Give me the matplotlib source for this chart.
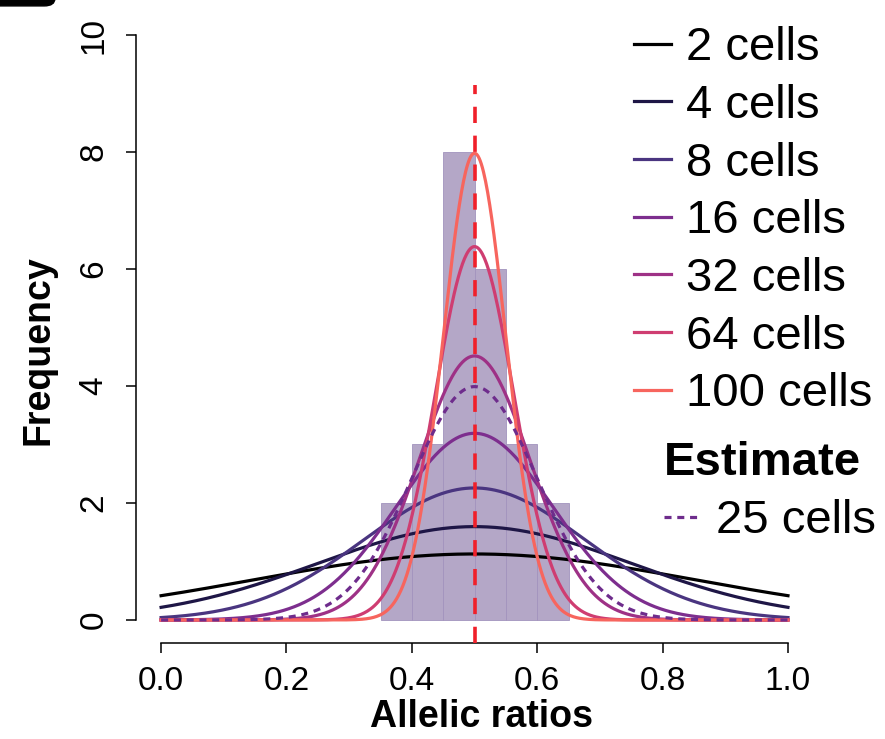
import matplotlib
matplotlib.use("Agg")
import matplotlib.pyplot as plt
import numpy as np
from matplotlib.lines import Line2D
from matplotlib.patches import FancyBboxPatch

plt.rcParams["font.family"] = ["Liberation Sans", "DejaVu Sans"]

# ─── Data ─────────────────────────────────────────────────────────────

bin_left = [0.35, 0.40, 0.45, 0.50, 0.55, 0.60]
bin_counts = [2, 3, 8, 6, 3, 2]
bin_width = 0.05

cell_counts = [2, 4, 8, 16, 32, 64, 100]
cell_colors = ["#000000", "#1e1646", "#4a3580", "#7d2e8e",
               "#9e3186", "#cf3d71", "#f7655e"]

estimate_cells = 25
estimate_color = "#6e2c8c"

expected_ratio = 0.5

# ─── Figure ───────────────────────────────────────────────────────────

fig = plt.figure(figsize=(8.85, 7.39), dpi=100)
ax = fig.add_axes([0.1537, 0.1294, 0.765, 0.8549])
ax.set_xlim(-0.04, 1.04)
ax.set_ylim(-0.4, 10.4)

ax.bar(bin_left, bin_counts, width=bin_width, align="edge",
       color="#b4a7c7", edgecolor="#a293bd", linewidth=0.6, zorder=1)

x = np.linspace(0, 1, 600)


def _density(n):
    sd = np.sqrt(expected_ratio * (1 - expected_ratio) / n)
    return np.exp(-0.5 * ((x - expected_ratio) / sd) ** 2) / (sd * np.sqrt(2 * np.pi))


for n, col in zip(cell_counts, cell_colors):
    ax.plot(x, _density(n), color=col, linewidth=2.3, zorder=3 + n / 1000)

ax.plot(x, _density(estimate_cells), color=estimate_color, linewidth=2.3,
        linestyle=(0, (2.2, 1.8)), zorder=3.2)

ax.vlines(expected_ratio, -0.4, 9.15, color="#f0202a", linewidth=2.6,
          linestyles=[(0, (4.5, 3.5))], zorder=5)

# R-style axes: detached spines limited to the data range
for side in ("top", "right"):
    ax.spines[side].set_visible(False)
ax.spines["left"].set_bounds(0, 10)
ax.spines["bottom"].set_bounds(0, 1)
ax.spines["left"].set_linewidth(1.1)
ax.spines["bottom"].set_linewidth(1.1)

ax.set_xticks([0, 0.2, 0.4, 0.6, 0.8, 1.0])
ax.set_xticklabels(["0.0", "0.2", "0.4", "0.6", "0.8", "1.0"])
ax.set_yticks([0, 2, 4, 6, 8, 10])
ax.set_yticklabels(["0", "2", "4", "6", "8", "10"], rotation=90, va="center")
ax.tick_params(axis="x", length=7, width=1.1, pad=9, labelsize=24)
ax.tick_params(axis="y", length=7, width=1.1, pad=12, labelsize=24)

ax.set_xlabel("Allelic ratios", fontsize=27, fontweight="bold")
ax.xaxis.set_label_coords(0.51, -0.088)
ax.set_ylabel("Frequency", fontsize=27, fontweight="bold")
ax.yaxis.set_label_coords(-0.118, 0.464)

# ─── Legends ──────────────────────────────────────────────────────────

handles = [Line2D([], [], color=c, linewidth=2.3) for c in cell_colors]
labels = [f"{n} cells" for n in cell_counts]
leg = ax.legend(handles, labels, loc="upper left", bbox_to_anchor=(0.735, 0.977),
                frameon=False, fontsize=34, handlelength=0.8, handletextpad=0.3,
                labelspacing=0.29, borderaxespad=0, borderpad=0)
ax.add_artist(leg)

est_handle = Line2D([], [], color=estimate_color, linewidth=2.3,
                    linestyle=(0, (2.2, 1.8)))
leg2 = ax.legend([est_handle], [f"{estimate_cells} cells"], loc="upper left",
                 bbox_to_anchor=(0.78, 0.32), frameon=False, fontsize=34,
                 title="Estimate", title_fontproperties={"size": 34, "weight": "bold"},
                 alignment="left", handlelength=0.8, handletextpad=0.3,
                 labelspacing=0.3, borderaxespad=0, borderpad=0)

# Panel tab peeking in at the top-left corner
fig.patches.append(FancyBboxPatch((-0.05, 0.992), 0.112, 0.04,
                                  boxstyle="round,pad=0,rounding_size=0.012",
                                  transform=fig.transFigure, color="black",
                                  mutation_aspect=739 / 885))

fig.savefig("out.png", dpi=100)
